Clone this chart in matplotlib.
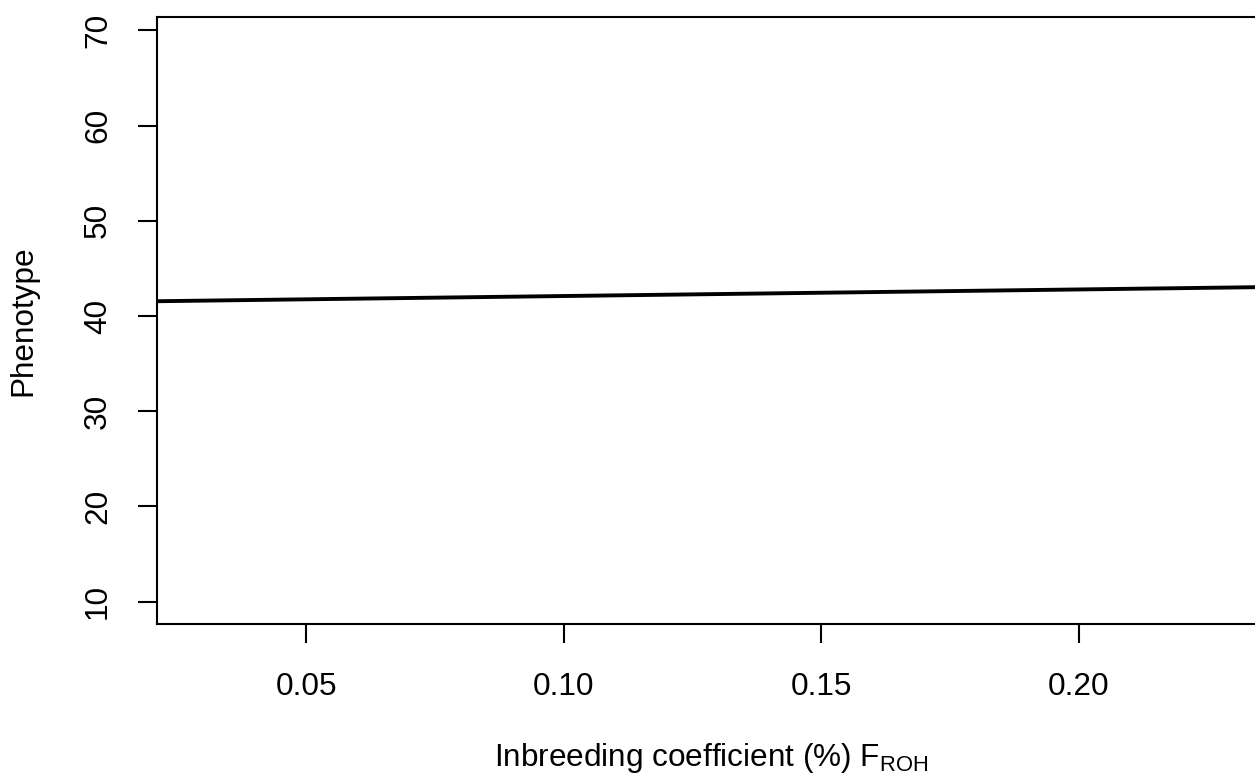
import matplotlib
matplotlib.use("Agg")
import matplotlib.pyplot as plt

# fitted line: phenotype = intercept + slope * F_ROH
intercept = 41.41
slope = 6.9

x_ticks = [0.05, 0.10, 0.15, 0.20]
x_labels = ["0.05", "0.10", "0.15", "0.20"]
y_ticks = [10, 20, 30, 40, 50, 60, 70]

plt.rcParams["font.family"] = ["Liberation Sans", "DejaVu Sans"]

W, H = 1255, 773
fig = plt.figure(figsize=(W / 100, H / 100), dpi=100, facecolor="white")
# box runs a little past the right border, like the cropped original
left, right, top, bottom = 157, 1265, 17, 624
ax = fig.add_axes([left / W, 1 - bottom / H, (right - left) / W, (bottom - top) / H])

ax.axline((0, intercept), slope=slope, color="black", lw=2.8)

ax.set_xlim(0.021, 0.2362)
ax.set_ylim(7.66, 71.4)
ax.set_xticks(x_ticks)
ax.set_xticklabels(x_labels)
ax.set_yticks(y_ticks)
ax.set_yticklabels([str(v) for v in y_ticks], rotation=90, va="center")

fs = 22.7
for s in ax.spines.values():
    s.set_linewidth(1.5)
ax.tick_params(axis="both", length=13.7, width=1.5, labelsize=fs)
ax.tick_params(axis="x", pad=21)
ax.tick_params(axis="y", pad=18)

ax.set_xlabel(r"Inbreeding coefficient (%) $\mathregular{F_{ROH}}$", fontsize=fs, labelpad=28)
ax.set_ylabel("Phenotype", fontsize=fs, labelpad=32)

fig.savefig("out.png", dpi=100)
